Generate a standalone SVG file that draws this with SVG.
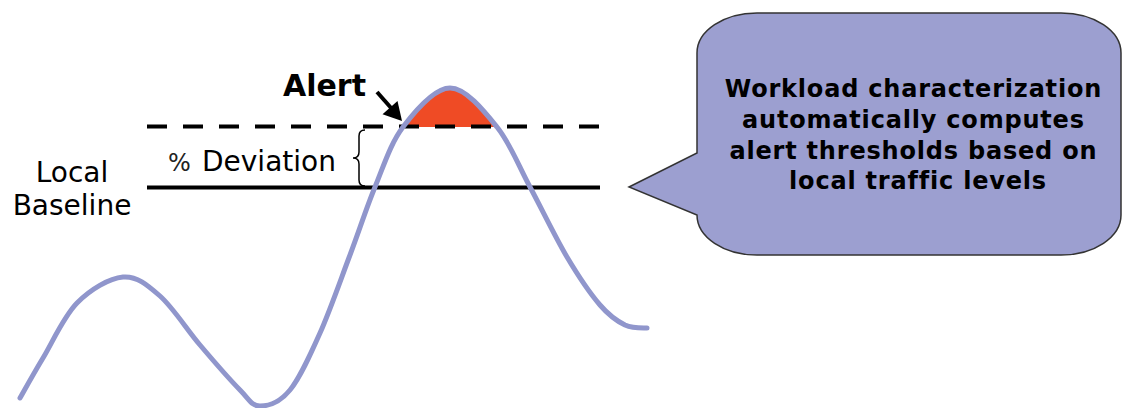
<svg xmlns="http://www.w3.org/2000/svg" width="1124" height="408" viewBox="0 0 1124 408">
<style>
.lbl{font-family:"DejaVu Sans","Liberation Sans",sans-serif;fill:#000}
.bold{font-weight:bold}
.curve{fill:none;stroke:#9096CC;stroke-width:5;stroke-linecap:round;stroke-linejoin:round}
</style>
<rect x="0" y="0" width="1124" height="408" fill="#fff"/>
<g id="alert-area">
<path d="M403,127 C415.5,110.5 434.3,88 450,88 C465.7,88 483.7,110.5 497,127 Z" fill="#EF4B25"/>
</g>
<g id="threshold-lines">
<line x1="147" y1="126.5" x2="600" y2="126.5" stroke="#000" stroke-width="4" stroke-dasharray="20 16"/>
<line x1="147" y1="187.5" x2="600" y2="187.5" stroke="#000" stroke-width="4"/>
</g>
<g id="traffic-curve">
<path class="curve" d="M20,398 C23.8,391.3 33.5,373.8 43,358 C52.5,342.2 63.7,316.5 77,303 C90.3,289.5 109.2,278.2 123,277 C136.8,275.8 147.2,284.7 160,296 C172.8,307.3 186.7,329.3 200,345 C213.3,360.7 230,379.8 240,390 C250,400.2 251.7,406 260,406 C268.3,406 280,402.2 290,390 C300,377.8 310,355.5 320,333 C330,310.5 340.8,279.3 350,255 C359.2,230.7 366.2,208.3 375,187 C383.8,165.7 390.5,143.5 403,127 C415.5,110.5 434.3,88 450,88 C465.7,88 483.7,110.5 497,127 C510.3,143.5 518.3,165.3 530,187 C541.7,208.7 555.3,237.3 567,257 C578.7,276.7 590.3,293.7 600,305 C609.7,316.3 617.2,321.2 625,325 C632.8,328.5 640,328 647,328"/>
</g>
<g id="deviation-brace">
<path d="M365,130 Q359,130 359,136 L359,152 Q359,158 353,158 Q359,158 359,164 L359,180 Q359,186 365,186" fill="none" stroke="#000" stroke-width="1.5"/>
<text class="lbl" x="168" y="171" font-size="28"><tspan font-size="24" fill="#222">%</tspan><tspan x="202">Deviation</tspan></text>
</g>
<g id="local-baseline">
<text class="lbl" x="72" y="182" font-size="28" text-anchor="middle">Local</text>
<text class="lbl" x="72" y="215" font-size="28" text-anchor="middle">Baseline</text>
</g>
<g id="alert">
<text class="lbl bold" x="283" y="96" font-size="30">Alert</text>
<line x1="377" y1="92" x2="392" y2="109" stroke="#000" stroke-width="4"/>
<polygon points="402,121 382.5,114.3 397.5,100.9" fill="#000"/>
</g>
<g id="callout">
<path d="M757,13 H1061 A60,40 0 0 1 1121,53 V215 A60,40 0 0 1 1061,255 H757 A60,40 0 0 1 697,215 L629,187 L697,153 V53 A60,40 0 0 1 757,13 Z" fill="#9C9FD0" stroke="#333" stroke-width="1.5"/>
<text class="lbl bold" font-size="24" letter-spacing="0.8" text-anchor="middle">
<tspan x="918" y="97">Workload characterization</tspan>
<tspan x="918" y="128">automatically computes</tspan>
<tspan x="918" y="159">alert thresholds based on</tspan>
<tspan x="918" y="189">local traffic levels</tspan>
</text>
</g>
</svg>
